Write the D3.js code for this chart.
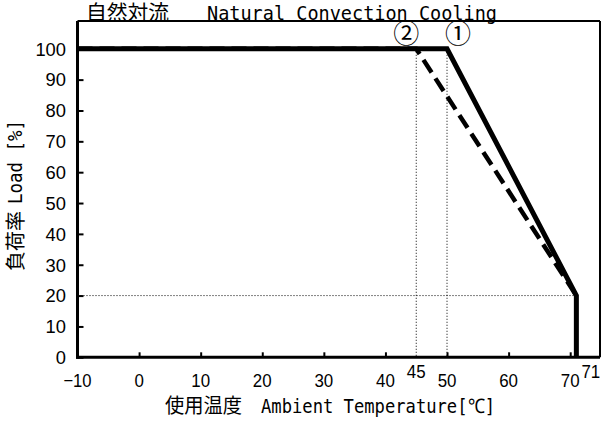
<!DOCTYPE html>
<html>
<head>
<meta charset="utf-8">
<script src="https://cdn.jsdelivr.net/npm/d3@7"></script>
<style>
  html, body { margin: 0; padding: 0; background: #fff; }
  svg { display: block; }
  .num { font-family: "Liberation Sans", Arial, sans-serif; font-size: 19px; fill: #000; }
  .cjk { font-family: "Noto Sans CJK JP", sans-serif; font-size: 20px; fill: #000; }
  .mono { font-family: "DejaVu Sans Mono", "Liberation Mono", monospace; font-size: 20px; fill: #000; }
</style>
</head>
<body>
<script>
// ---- data ----
const xTicks = [-10, 0, 10, 20, 30, 40, 50, 60, 70];
const yTicks = [0, 10, 20, 30, 40, 50, 60, 70, 80, 90, 100];
const extraXLabels = [45, 71];
const curve1Temp = [-10, 50, 71, 71];   // ① solid
const curve1Load = [100, 100, 20, 0];
const curve2Temp = [-10, 45, 71];       // ② dashed
const curve2Load = [100, 100, 20];
const refVertTemps = [45, 50];
const refHorizLoad = 20;
const refHorizEnd = 71;
const titleJa = "自然対流";
const titleEn = "Natural Convection Cooling";
const xTitleJa = "使用温度";
const xTitleEn = "Ambient Temperature[℃]";
const yTitleJa = "負荷率";
const yTitleEn = "Load [%]";
const curveLabels = ["①", "②"];

(function () {
// ---- layout ----
const W = 602, H = 423;
const svg = d3.select("body").append("svg").attr("width", W).attr("height", H);
svg.append("rect").attr("width", W).attr("height", H).attr("fill", "#fff");

const x = d3.scaleLinear().domain([-10, 75]).range([77.5, 601]);
const y = d3.scaleLinear().domain([0, 109]).range([357.3, 21]);

const pL = x(-10), pR = 600, pT = y(109), pB = y(0);

// frame
svg.append("line").attr("x1", pL).attr("x2", pR).attr("y1", pT).attr("y2", pT)
  .attr("stroke", "#000").attr("stroke-width", 2);
svg.append("line").attr("x1", pR).attr("x2", pR).attr("y1", pT).attr("y2", pB)
  .attr("stroke", "#000").attr("stroke-width", 2);

// axes (inward ticks)
const xAxis = d3.axisBottom(x).tickValues(xTicks).tickSizeInner(-5).tickSizeOuter(0).tickFormat(() => "");
const gx = svg.append("g").attr("transform", `translate(0,${pB})`).call(xAxis);
gx.select(".domain").remove();
gx.selectAll(".tick line").attr("stroke", "#000").attr("stroke-width", 2);

const yAxis = d3.axisLeft(y).tickValues(yTicks).tickSizeInner(-6).tickSizeOuter(0).tickFormat(() => "");
const gy = svg.append("g").attr("transform", `translate(${pL},0)`).call(yAxis);
gy.select(".domain").remove();
gy.selectAll(".tick line").attr("stroke", "#000").attr("stroke-width", 2);

// axis lines
svg.append("line").attr("x1", pL).attr("x2", pL).attr("y1", pT).attr("y2", pB + 1.5)
  .attr("stroke", "#000").attr("stroke-width", 3);
svg.append("line").attr("x1", pL - 1.5).attr("x2", pR).attr("y1", pB).attr("y2", pB)
  .attr("stroke", "#000").attr("stroke-width", 3);

// tick labels
const fmt = v => v < 0 ? "\u2212" + Math.abs(v) : String(v);
svg.append("g").selectAll("text").data(xTicks).join("text")
  .attr("class", "num").attr("x", d => x(d)).attr("y", 387)
  .attr("text-anchor", "middle")
  .attr("textLength", d => fmt(d).length * 9.4).attr("lengthAdjust", "spacingAndGlyphs")
  .text(fmt);
svg.append("g").selectAll("text").data(extraXLabels).join("text")
  .attr("class", "num")
  .attr("x", d => d === 71 ? x(d) + 14.5 : x(d))
  .attr("y", 378)
  .attr("text-anchor", "middle")
  .attr("textLength", d => String(d).length * 9.4).attr("lengthAdjust", "spacingAndGlyphs")
  .text(d => d);
svg.append("g").selectAll("text").data(yTicks).join("text")
  .attr("class", "num").attr("x", 66).attr("y", d => y(d)).attr("dy", "0.36em")
  .attr("text-anchor", "end")
  .attr("textLength", d => String(d).length * 10.2).attr("lengthAdjust", "spacingAndGlyphs")
  .text(d => d);

// dotted reference lines
refVertTemps.forEach(t => {
  svg.append("line").attr("x1", x(t)).attr("x2", x(t)).attr("y1", y(100)).attr("y2", y(0))
    .attr("stroke", "#000").attr("stroke-width", 1).attr("stroke-dasharray", "1,2");
});
svg.append("line").attr("x1", x(-10)).attr("x2", x(refHorizEnd)).attr("y1", y(refHorizLoad)).attr("y2", y(refHorizLoad))
  .attr("stroke", "#000").attr("stroke-width", 1).attr("stroke-dasharray", "1,2");

// curves
const line = d3.line().x(d => x(d[0])).y(d => y(d[1]));
const c2 = curve2Temp.map((t, i) => [t, curve2Load[i]]);
const c1 = curve1Temp.map((t, i) => [t, curve1Load[i]]);
svg.append("path").datum(c2).attr("d", line).attr("fill", "none")
  .attr("stroke", "#000").attr("stroke-width", 4.5).attr("stroke-dasharray", "15,7");
svg.append("path").datum(c1).attr("d", line).attr("fill", "none")
  .attr("stroke", "#000").attr("stroke-width", 5).attr("stroke-linejoin", "miter");

// curve labels
svg.append("text").attr("class", "cjk").attr("x", x(50) + 11).attr("y", 43)
  .attr("text-anchor", "middle").style("font-size", "26px").text(curveLabels[0]);
svg.append("text").attr("class", "cjk").attr("x", x(45) - 10).attr("y", 43)
  .attr("text-anchor", "middle").style("font-size", "26px").text(curveLabels[1]);

// title
svg.append("text").attr("class", "cjk").attr("x", 86).attr("y", 19.5)
  .attr("textLength", 83).attr("lengthAdjust", "spacingAndGlyphs").text(titleJa);
svg.append("text").attr("class", "mono").attr("x", 207).attr("y", 20)
  .attr("textLength", 290).attr("lengthAdjust", "spacingAndGlyphs").text(titleEn);

// x title
svg.append("text").attr("class", "cjk").attr("x", 165).attr("y", 413)
  .attr("textLength", 77).attr("lengthAdjust", "spacingAndGlyphs").text(xTitleJa);
svg.append("text").attr("class", "mono").attr("x", 261).attr("y", 413)
  .attr("textLength", 234).attr("lengthAdjust", "spacingAndGlyphs").text(xTitleEn);

// y title (rotated)
const gyt = svg.append("g").attr("transform", "translate(22.5,0) rotate(-90)");
gyt.append("text").attr("class", "cjk").attr("x", -271).attr("y", 0)
  .attr("textLength", 60).attr("lengthAdjust", "spacingAndGlyphs").text(yTitleJa);
gyt.append("text").attr("class", "mono").attr("x", -204).attr("y", -1)
  .attr("textLength", 84).attr("lengthAdjust", "spacingAndGlyphs").text(yTitleEn);
})();
</script>
</body>
</html>
